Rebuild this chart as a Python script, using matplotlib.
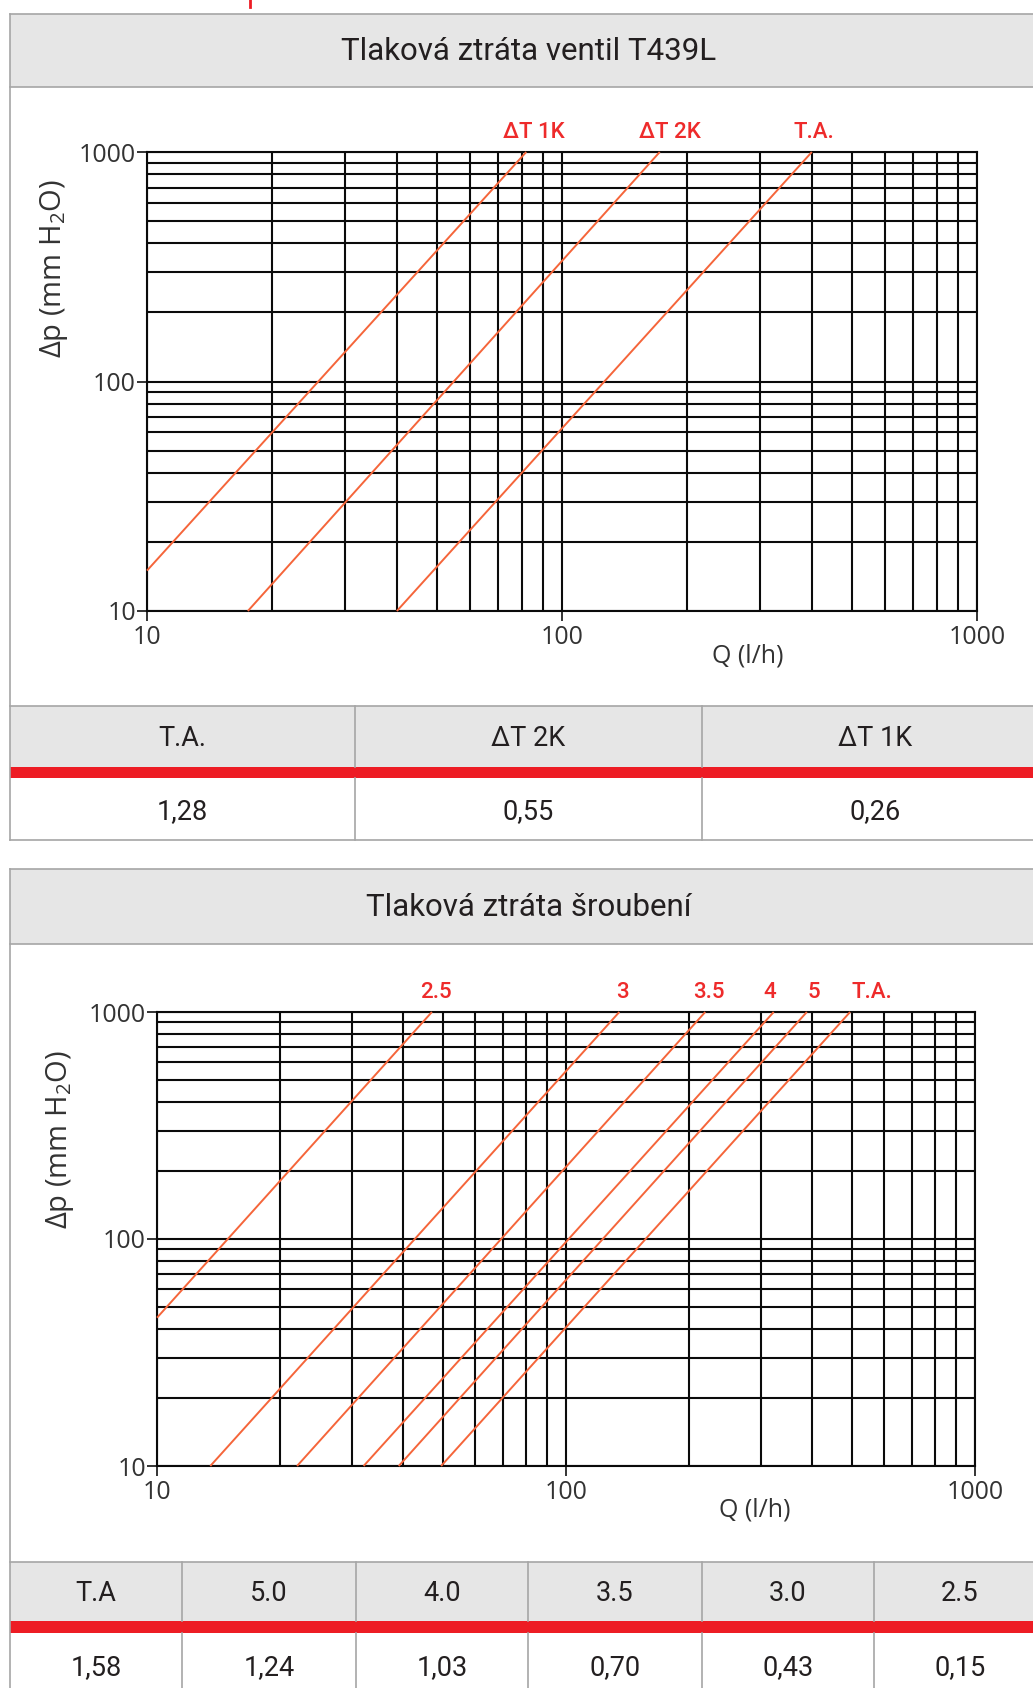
import matplotlib
matplotlib.use("Agg")
import matplotlib.pyplot as plt
from matplotlib import font_manager
from matplotlib.patches import Rectangle
from matplotlib.lines import Line2D
from matplotlib.ticker import LogLocator, NullFormatter

# --- data ---
top_title = "Tlaková ztráta ventil T439L"
top_names = ["ΔT 1K", "ΔT 2K", "T.A."]
top_q_start = [10, 17.5, 40]        # Q (l/h) at start of line
top_dp_start = [15, 10, 10]         # Δp at start
top_q_end = [82, 172, 400]          # Q at Δp = 1000
top_dp_end = [1000, 1000, 1000]
top_table_head = ["T.A.", "ΔT 2K", "ΔT 1K"]
top_table_vals = ["1,28", "0,55", "0,26"]

bot_title = "Tlaková ztráta šroubení"
bot_names = ["2.5", "3", "3.5", "4", "5", "T.A."]
bot_q_start = [10, 13.5, 22, 32, 39, 49.5]
bot_dp_start = [45, 10, 10, 10, 10, 10]
bot_q_end = [47, 135, 219, 322, 388, 495]
bot_dp_end = [1000, 1000, 1000, 1000, 1000, 1000]
bot_table_head = ["T.A", "5.0", "4.0", "3.5", "3.0", "2.5"]
bot_table_vals = ["1,58", "1,24", "1,03", "0,70", "0,43", "0,15"]

x_ticks = [10, 100, 1000]
y_ticks = [10, 100, 1000]

# --- fonts ---
names = {f.name for f in font_manager.fontManager.ttflist}
narrow = "Liberation Sans Narrow" if "Liberation Sans Narrow" in names else "Roboto"
plain = "Open Sans"
plt.rcParams["font.family"] = [plain, "DejaVu Sans"]
plt.rcParams["mathtext.default"] = "regular"

W, H = 1033, 1688
fig = plt.figure(figsize=(W / 100, H / 100), dpi=100)

def fx(x):
    return x / W

def fy(y):
    return 1 - y / H

GRAY = "#a6a6a6"
FILL = "#e6e6e6"
RED = "#ed1c24"
LINE = "#f5653a"
TXT = "#231f20"

def rect(x0, y0, x1, y1, color):
    fig.patches.append(Rectangle((fx(x0), fy(y1)), fx(x1) - fx(x0), fy(y0) - fy(y1),
                                 transform=fig.transFigure, facecolor=color,
                                 edgecolor="none", zorder=0))

def hline(y, x0=10, x1=W, color=GRAY, lw=1.2):
    fig.add_artist(Line2D([fx(x0), fx(x1)], [fy(y), fy(y)], color=color, lw=lw,
                          transform=fig.transFigure))

def vline(x, y0, y1, color=GRAY, lw=1.2):
    fig.add_artist(Line2D([fx(x), fx(x)], [fy(y0), fy(y1)], color=color, lw=lw,
                          transform=fig.transFigure))


def panel(top, head_bot, title, tab_top, red0, red1, bottom, cols, heads, vals, val_y):
    rect(10, top, W, head_bot, FILL)
    rect(10, tab_top, W, red0, FILL)
    rect(10, red0, W, red1, RED)
    hline(top)
    hline(head_bot)
    hline(tab_top)
    if bottom < H:
        hline(bottom)
    vline(10, top, min(bottom, H))
    fig.text(fx(W / 2 + 12), fy((top + head_bot) / 2 + 1), title, fontsize=22.5,
             family=[narrow, "DejaVu Sans"], color=TXT, ha="center", va="center")
    edges = cols + [cols[-1] + (cols[-1] - cols[-2])]
    for i in range(1, len(cols)):
        vline(cols[i], tab_top, red0)
        vline(cols[i], red1, min(bottom, H))
    for i, (h, v) in enumerate(zip(heads, vals)):
        cx = (edges[i] + edges[i + 1]) / 2
        fig.text(fx(cx), fy((tab_top + red0) / 2 + 2), h, fontsize=19.5,
                 family=[narrow, "DejaVu Sans"], color=TXT, ha="center", va="center")
        fig.text(fx(cx), fy(val_y), v, fontsize=19.5,
                 family=[narrow, "DejaVu Sans"], color=TXT, ha="center", va="center")


def chart(x0, x1, y0, y1, q_s, dp_s, q_e, dp_e, labels, label_y, label_dx, ylab_xy, qlab_xy):
    ax = fig.add_axes([fx(x0), fy(y1), fx(x1) - fx(x0), fy(y0) - fy(y1)])
    ax.set_xscale("log")
    ax.set_yscale("log")
    ax.set_xlim(10, 1000)
    ax.set_ylim(10, 1000)
    for axis in (ax.xaxis, ax.yaxis):
        axis.set_major_locator(LogLocator(base=10, subs=(1.0,)))
        axis.set_minor_locator(LogLocator(base=10, subs=range(2, 10)))
        axis.set_minor_formatter(NullFormatter())
    ax.grid(True, which="both", color="#0a0a0a", lw=1.5)
    for s in ax.spines.values():
        s.set_color("#0a0a0a")
        s.set_linewidth(1.5)
    ax.set_xticks(x_ticks)
    ax.set_yticks(y_ticks)
    ax.set_xticklabels([str(t) for t in x_ticks])
    ax.set_yticklabels([str(t) for t in y_ticks])
    ax.tick_params(which="minor", length=0)
    ax.tick_params(which="major", length=7, width=1.4, color="#333333", labelsize=18,
                   labelcolor="#333333", pad=3)
    ax.tick_params(axis="y", pad=1)
    for i in range(len(labels)):
        ax.plot([q_s[i], q_e[i]], [dp_s[i], dp_e[i]], color=LINE, lw=1.4,
                solid_capstyle="butt", zorder=3, clip_on=False)
        ax.annotate(labels[i], xy=(q_e[i], 1000), xycoords="data",
                    xytext=(label_dx[i], label_y), textcoords="offset pixels",
                    ha="center", va="center", fontsize=16, color="#ee2b2b",
                    family=[narrow, "DejaVu Sans"], fontweight="medium",
                    annotation_clip=False)
    fig.text(fx(ylab_xy[0]), fy(ylab_xy[1]), "Δp (mm H$_2$O)", rotation=90,
             fontsize=21, color="#333333", ha="center", va="center")
    fig.text(fx(qlab_xy[0]), fy(qlab_xy[1]), "Q (l/h)", fontsize=18,
             color="#333333", ha="center", va="center")
    return ax


# small red mark at the very top
vline(250, 0, 7, color=RED, lw=2)

panel(14, 87, top_title, 706, 767, 778, 840, [10, 355, 702], top_table_head,
      top_table_vals, 812)
chart(147, 977, 152, 611, top_q_start, top_dp_start, top_q_end, top_dp_end,
      top_names, 19, [8, 10, 2], (54, 269), (748, 656))

panel(869, 944, bot_title, 1562, 1621, 1633, H + 5, [10, 182, 356, 528, 702, 874],
      bot_table_head, bot_table_vals, 1668)
chart(157, 975, 1012, 1466, bot_q_start, bot_dp_start, bot_q_end, bot_dp_end,
      bot_names, 20, [4, 3, 4, -4, 7, 22], (60, 1140), (755, 1510))

fig.savefig("out.png", dpi=100)
